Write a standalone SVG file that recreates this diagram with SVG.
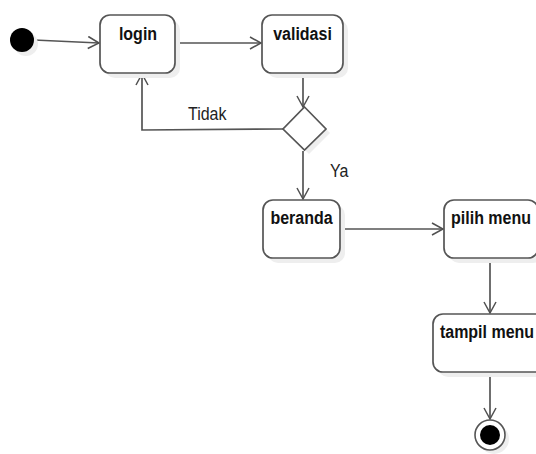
<svg xmlns="http://www.w3.org/2000/svg" width="536" height="454" viewBox="0 0 536 454">
<defs>
<marker id="arr" markerWidth="14" markerHeight="14" refX="12" refY="7" orient="auto" markerUnits="userSpaceOnUse">
<path d="M1,1 L12,7 L1,13" fill="none" stroke="#505050" stroke-width="1.5"/>
</marker>
</defs>
<style>
.box{fill:#fff;stroke:#555;stroke-width:1.7}
.sh{fill:#eeeeee}
.lbl{font-family:"Liberation Sans",Arial,sans-serif;font-weight:bold;font-size:16px;fill:#111;text-anchor:middle}
.t{font-family:"Liberation Sans",Arial,sans-serif;font-size:16px;fill:#222}
.c{fill:none;stroke:#555;stroke-width:1.7}
</style>
<rect width="536" height="454" fill="#fff"/>
<g id="connectors">
<path class="c" d="M34,40 L99,43" marker-end="url(#arr)"/>
<path class="c" d="M175,43 L261,43" marker-end="url(#arr)"/>
<path class="c" d="M303,73 L303,107" marker-end="url(#arr)"/>
<path class="c" d="M283,129 L142,130 L142,74" marker-end="url(#arr)"/>
<path class="c" d="M303,151 L303,199" marker-end="url(#arr)"/>
<path class="c" d="M340,229 L443,229" marker-end="url(#arr)"/>
<path class="c" d="M490,258 L490,313" marker-end="url(#arr)"/>
<path class="c" d="M490,372 L490,419" marker-end="url(#arr)"/>
<text class="t" transform="translate(188,120) scale(1,1.12)">Tidak</text>
<text class="t" transform="translate(330,177) scale(1,1.12)">Ya</text>
</g>
<g id="start">
<circle cx="26" cy="44" r="12" fill="#eee"/>
<circle cx="22" cy="40" r="12" fill="#000"/>
</g>
<g id="login">
<rect class="sh" x="105" y="20" width="75" height="58" rx="10"/>
<rect class="box" x="100" y="15" width="75" height="58" rx="10"/>
<text class="lbl" transform="translate(138,40) scale(1,1.12)">login</text>
</g>
<g id="validasi">
<rect class="sh" x="267" y="20" width="81" height="58" rx="10"/>
<rect class="box" x="262" y="15" width="81" height="58" rx="10"/>
<text class="lbl" transform="translate(302.5,40) scale(1,1.12)">validasi</text>
</g>
<g id="decision">
<polygon points="309,112 330,133 309,154 288,133" fill="#eee"/>
<polygon points="304.5,107 326,129 304.5,150 283,129" fill="#fff" stroke="#555" stroke-width="1.7"/>
</g>
<g id="beranda">
<rect class="sh" x="268" y="205" width="77" height="58" rx="10"/>
<rect class="box" x="263" y="200" width="77" height="58" rx="10"/>
<text class="lbl" transform="translate(301.5,224) scale(1,1.12)">beranda</text>
</g>
<g id="pilih-menu">
<rect class="sh" x="449" y="205" width="94" height="58" rx="10"/>
<rect class="box" x="444" y="200" width="94" height="58" rx="10"/>
<text class="lbl" transform="translate(491,224) scale(1,1.12)">pilih menu</text>
</g>
<g id="tampil-menu">
<rect class="sh" x="438" y="319" width="114" height="58" rx="10"/>
<rect class="box" x="433" y="314" width="114" height="58" rx="10"/>
<text class="lbl" transform="translate(487,338) scale(1,1.12)">tampil menu</text>
</g>
<g id="end">
<circle cx="494" cy="439" r="15" fill="#eee"/>
<circle cx="490" cy="435" r="15" fill="#fff" stroke="#555" stroke-width="1.6"/>
<circle cx="490" cy="435" r="10" fill="#000"/>
</g>
</svg>
